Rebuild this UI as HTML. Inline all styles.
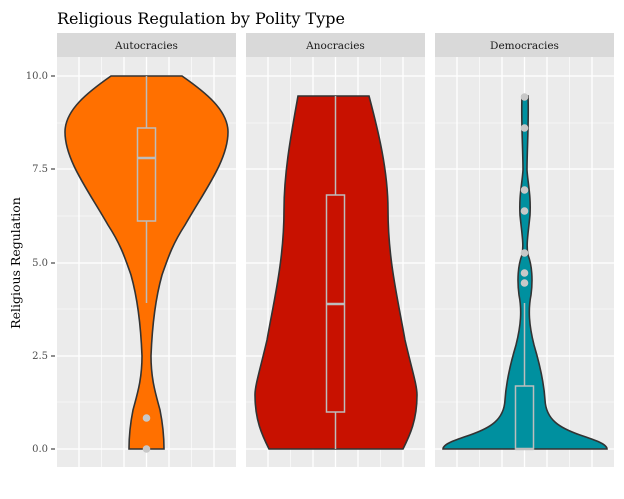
<!DOCTYPE html>
<html><head><meta charset="utf-8"><style>
body{margin:0;background:#fff}
svg{display:block;font-family:"DejaVu Serif","Liberation Serif",serif}
</style></head><body>
<svg width="624" height="499" viewBox="0 0 624 499" xmlns="http://www.w3.org/2000/svg">
<text x="57" y="24" font-size="16" fill="#000">Religious Regulation by Polity Type</text>
<text transform="translate(20,263) rotate(-90)" text-anchor="middle" font-size="12.5" fill="#000">Religious Regulation</text>
<g font-size="10" fill="#4d4d4d" text-anchor="end">
<text x="48" y="79">10.0</text><text x="48" y="172">7.5</text><text x="48" y="266">5.0</text><text x="48" y="359">2.5</text><text x="48" y="452">0.0</text>
</g>
<g stroke="#333" stroke-width="1.1">
<line x1="51" x2="55" y1="76" y2="76"/><line x1="51" x2="55" y1="169" y2="169"/><line x1="51" x2="55" y1="263" y2="263"/><line x1="51" x2="55" y1="356" y2="356"/><line x1="51" x2="55" y1="449" y2="449"/>
</g>
<defs>
<g id="panel">
<rect x="0" y="57" width="179" height="410" fill="#ebebeb"/>
<rect x="0" y="33" width="179" height="24" fill="#d9d9d9"/>
<g stroke="#fff" stroke-width="0.6">
<line x1="0" x2="179" y1="123" y2="123"/><line x1="0" x2="179" y1="216" y2="216"/><line x1="0" x2="179" y1="309" y2="309"/><line x1="0" x2="179" y1="402" y2="402"/>
<line x1="44.5" x2="44.5" y1="57" y2="467"/><line x1="134.5" x2="134.5" y1="57" y2="467"/>
</g>
<g stroke="#fff" stroke-width="1.3">
<line x1="0" x2="179" y1="76" y2="76"/><line x1="0" x2="179" y1="169" y2="169"/><line x1="0" x2="179" y1="263" y2="263"/><line x1="0" x2="179" y1="356" y2="356"/><line x1="0" x2="179" y1="449" y2="449"/>
<line x1="22" x2="22" y1="57" y2="467"/><line x1="67" x2="67" y1="57" y2="467"/><line x1="89.5" x2="89.5" y1="57" y2="467"/><line x1="112" x2="112" y1="57" y2="467"/><line x1="157" x2="157" y1="57" y2="467"/>
</g>
</g>
</defs>
<use href="#panel" x="57"/><use href="#panel" x="246"/><use href="#panel" x="435"/>
<g font-size="10.5" fill="#1a1a1a" text-anchor="middle">
<text x="146.5" y="49">Autocracies</text><text x="335.5" y="49">Anocracies</text><text x="524.5" y="49">Democracies</text>
</g>
<path d="M111,76 L182,76 C205,92 228,110 228,132 C228,160 205,190 185,225 C172,245 168,258 162,275 C155,300 152,330 151,356 C151,380 156,395 160,410 C163,425 164,435 164,449 L129,449 C129,435 130,425 133,410 C137,395 142,380 142,356 C141,330 138,300 131,275 C125,258 121,245 108,225 C88,190 65,160 65,132 C65,110 88,92 111,76 Z" fill="#ff7000" stroke="#333" stroke-width="1.6"/>
<g stroke="#bdbdbd" stroke-width="1.5" fill="none">
<line x1="146.5" x2="146.5" y1="76" y2="128"/><line x1="146.5" x2="146.5" y1="221" y2="303"/>
<rect x="137.5" y="128" width="18" height="93"/><line x1="137.5" x2="155.5" y1="158" y2="158" stroke-width="2.4"/>
</g>
<g fill="#c8c8c8"><circle cx="146.5" cy="418" r="3.8"/><circle cx="146.5" cy="449" r="3.8"/></g>
<path d="M298,96 L369,96 C378,130 388,170 388,210 C388,260 398,300 405,340 C412,370 417,385 417,395 C417,420 410,435 403,449 L269,449 C262,435 255,420 255,395 C255,385 260,370 267,340 C274,300 284,260 284,210 C284,170 292,130 298,96 Z" fill="#c81100" stroke="#333" stroke-width="1.6"/>
<g stroke="#bdbdbd" stroke-width="1.5" fill="none">
<line x1="335.5" x2="335.5" y1="96" y2="195"/><line x1="335.5" x2="335.5" y1="412" y2="449"/>
<rect x="326.5" y="195" width="18" height="217"/><line x1="326.5" x2="344.5" y1="304" y2="304" stroke-width="2.4"/>
</g>
<path d="M522,96 L528,96 C529,120 527,150 527,170 C528,185 531,195 530,215 C528,235 526,245 528,255 C532,265 533,280 531,295 C528,310 529,325 534,345 C540,365 544,385 545,400 C546,420 560,428 580,435 C595,440 607,444 607,449 L443,449 C443,444 455,440 470,435 C490,428 504,420 505,400 C506,385 510,365 516,345 C521,325 522,310 519,295 C517,280 518,265 522,255 C524,245 522,235 520,215 C519,195 522,185 523,170 C523,150 521,120 522,96 Z" fill="#00909f" stroke="#333" stroke-width="1.6"/>
<g stroke="#bdbdbd" stroke-width="1.5" fill="none">
<line x1="524.5" x2="524.5" y1="303" y2="386"/>
<rect x="515.5" y="386" width="18" height="63"/><line x1="515.5" x2="533.5" y1="449" y2="449" stroke-width="2.4"/>
</g>
<g fill="#c8c8c8">
<circle cx="524.5" cy="97" r="3.8"/><circle cx="524.5" cy="128" r="3.8"/><circle cx="524.5" cy="190" r="3.8"/><circle cx="524.5" cy="211" r="3.8"/><circle cx="524.5" cy="253" r="3.8"/><circle cx="524.5" cy="273" r="3.8"/><circle cx="524.5" cy="283" r="3.8"/>
</g>
</svg>
</body></html>
